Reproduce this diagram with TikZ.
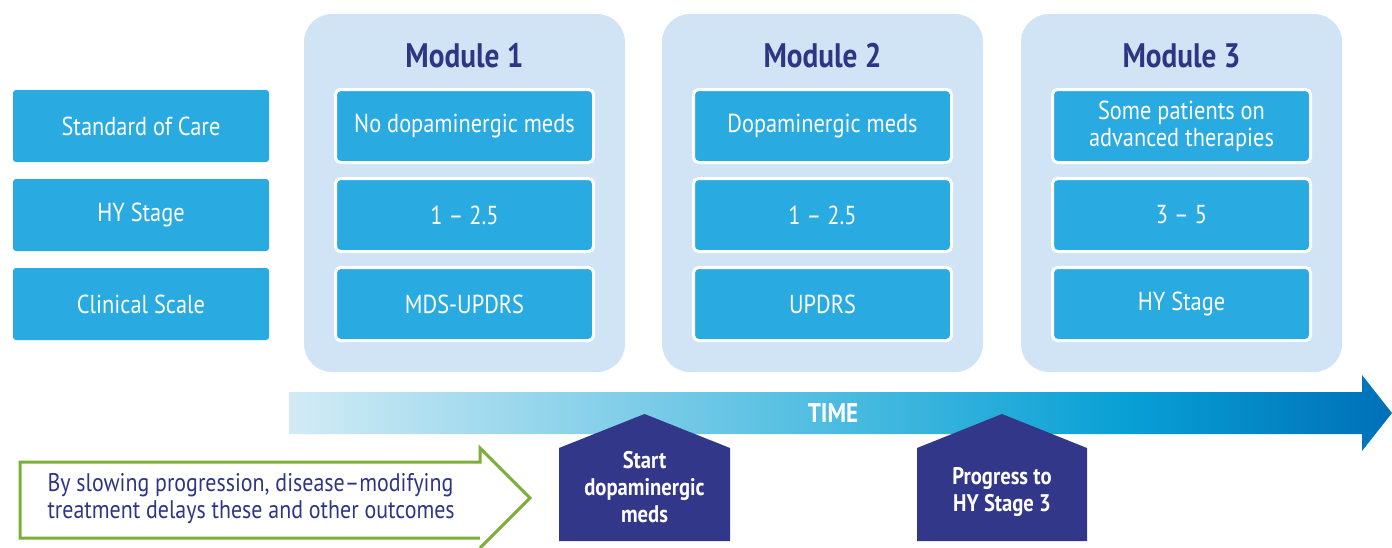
\documentclass[tikz,border=0pt]{standalone}
\usepackage{fontspec}
\setmainfont{PT Sans}[FakeStretch=0.86]
\usetikzlibrary{positioning}
\definecolor{panelblue}{HTML}{D0E4F5}
\definecolor{cellblue}{HTML}{29AAE1}
\definecolor{darkblue}{HTML}{32378A}
\definecolor{titleblue}{HTML}{2E3583}
\definecolor{greenline}{HTML}{7CAE3A}
\definecolor{timelight}{HTML}{D2EBF5}
\definecolor{timemid}{HTML}{4BBBE0}
\definecolor{timecyan}{HTML}{08A0D5}
\definecolor{timedark}{HTML}{0070B8}
\pgfdeclarehorizontalshading{timeshade}{100bp}{color(0bp)=(timelight); color(25bp)=(timelight);
  color(50bp)=(timemid); color(63bp)=(timecyan); color(75bp)=(timedark); color(100bp)=(timedark)}
\tikzset{
  rowlabel/.style={fill=cellblue, rounded corners=3, minimum width=256, minimum height=72,
    inner sep=0, text=white, font=\fontsize{26}{28}\selectfont},
  panel/.style={fill=panelblue, rounded corners=28, minimum width=321, minimum height=358, inner sep=0},
  cell/.style={fill=cellblue, draw=white, line width=3, rounded corners=5, minimum width=258,
    minimum height=73, inner sep=0, text=white, align=center, font=\fontsize{26}{27}\selectfont},
  modtitle/.style={text=titleblue, font=\fontsize{34}{36}\selectfont\bfseries},
  milestone/.style={text=white, align=center, font=\fontsize{24}{27}\selectfont\bfseries}
}
\begin{document}
\begin{tikzpicture}[x=1pt,y=-1pt]
  \useasboundingbox (0,0) rectangle (1392,547);
  % row labels
  \node[rowlabel] (care) at (141,126) {Standard of Care};
  \node[rowlabel] (stage) at (141,215) {HY Stage};
  \node[rowlabel] (scale) at (141,304) {Clinical Scale};
  % module panels
  \node[panel] (mod1) at (464.5,193) {};
  \node[panel] (mod2) at (822.5,193) {};
  \node[panel] (mod3) at (1181.5,193) {};
  \node[modtitle] (title1) at (464.5,56) {Module 1};
  \node[modtitle] (title2) at (822.5,56) {Module 2};
  \node[modtitle] (title3) at (1181.5,56) {Module 3};
  \node[cell] (care1) at (464.5,126) {No dopaminergic meds};
  \node[cell] (stage1) at (464.5,215) {1 -- 2.5};
  \node[cell] (scale1) at (464.5,304) {MDS-UPDRS};
  \node[cell] (care2) at (822.5,126) {Dopaminergic meds};
  \node[cell] (stage2) at (822.5,215) {1 -- 2.5};
  \node[cell] (scale2) at (822.5,304) {UPDRS};
  \node[cell] (care3) at (1181.5,126) {Some patients on\\advanced therapies};
  \node[cell] (stage3) at (1181.5,215) {3 -- 5};
  \node[cell] (scale3) at (1181.5,304) {HY Stage};
  % time arrow
  \shade[shading=timeshade]
    (289,392) -- (1362,392) -- (1362,375) -- (1392,413) -- (1362,451) -- (1362,434) -- (289,434) -- cycle;
  \node[text=white, font=\fontsize{27}{29}\selectfont\bfseries] (time) at (833,413) {TIME};
  % milestones
  \fill[darkblue] (559,448) -- (644.5,414) -- (730,448) -- (730,541) -- (559,541) -- cycle;
  \node[milestone] (start) at (644.5,487) {Start\\dopaminergic\\meds};
  \fill[darkblue] (917,448) -- (1002,414) -- (1087,448) -- (1087,541) -- (917,541) -- cycle;
  \node[milestone] (progress) at (1002,492) {Progress to\\HY Stage 3};
  % delay arrow
  \draw[greenline, line width=3, line join=miter]
    (480,538) -- (20,538) -- (20,462) -- (480,462) -- (480,448) -- (530,498) -- (480,548);
  \node[text=titleblue, align=left, anchor=west, font=\fontsize{25.5}{27}\selectfont] (delay) at (44,499)
    {By slowing progression, disease--modifying\\treatment delays these and other outcomes};
\end{tikzpicture}
\end{document}
